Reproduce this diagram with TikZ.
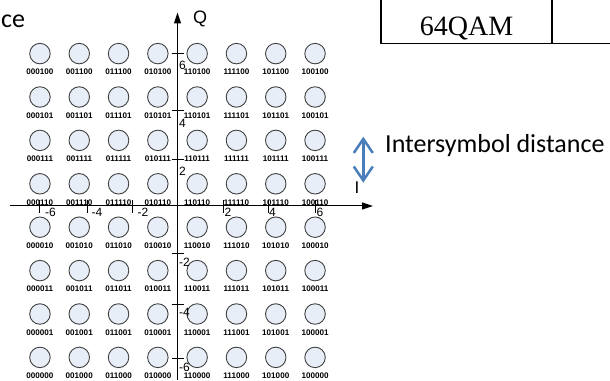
\documentclass[tikz,border=0pt]{standalone}
\usepackage{fontspec}
\setmainfont{Liberation Sans}
\newfontfamily\calibri{Carlito}
\newfontfamily\timesf{Liberation Serif}
\usetikzlibrary{arrows.meta}
\definecolor{symfill}{RGB}{232,238,247}
\definecolor{arrblue}{RGB}{74,126,187}
\tikzset{
  symbol/.style={circle, draw=black!75, fill=symfill, line width=0.9pt, minimum size=20.5pt, inner sep=0pt},
  bits/.style={font=\fontsize{8.1}{9}\selectfont\bfseries, inner sep=0pt},
  ticklab/.style={font=\fontsize{12}{14}\selectfont, inner sep=0pt, anchor=north west},
  axis/.style={line width=1pt, -{Triangle[length=11pt,width=7pt]}},
}
\begin{document}
\begin{tikzpicture}[x=1pt,y=1pt]
  \useasboundingbox (-177.5,-174) rectangle (432.5,206);
  % 坐标轴
  \coordinate (Ibeg) at (-167.5,0);
  \coordinate (Iend) at (195.5,0);
  \coordinate (Qbeg) at (0,-174);
  \coordinate (Qend) at (0,193.5);
  \draw[axis] (Ibeg) -- (Iend);
  \draw[axis] (Qbeg) -- (Qend);
  \node[font=\fontsize{18}{20}\selectfont] (qlab) at (22.5,187.5) {Q};
  \node[font=\fontsize{17}{20}\selectfont] (ilab) at (179.5,18) {I};
  % 星座点（比特标注）
  \foreach \c [count=\i from 0] in {000,001,011,010,110,111,101,100}
    \foreach \r [count=\j from 0] in {100,101,111,110,010,011,001,000} {
      \node[symbol] (s\i\j) at ({(\i-3.5)*39.3},{(3.5-\j)*43.4+0.5}) {};
      \node[bits] (b\i\j) at ([yshift=-18.5pt]s\i\j.center) {\c\r};
    }
  % I轴刻度
  \foreach \x/\t/\dx in {-138/-6/5.5, -90.5/-4/4.5, -45.5/-2/5.5, 45.5/2/1.5, 90.5/4/1, 138/6/1} {
    \draw[line width=0.8pt] (\x,6) -- (\x,-7);
    \node[ticklab] at (\x+\dx,-2) {\t};
  }
  % Q轴刻度
  \foreach \y/\t/\dy in {153/6/-8, 96/4/-9.5, 47/2/-7.7, -47/-2/-4.5, -98/-4/-4.5, -152/-6/-5} {
    \draw[line width=0.8pt] (-6,\y) -- (6,\y);
    \node[ticklab] at (1.5,\y+\dy) {\t};
  }
  % 表格一角
  \coordinate (t1) at (203.2,206);
  \coordinate (t2) at (203.2,162.5);
  \coordinate (t3) at (432.5,162.5);
  \coordinate (t4) at (374.2,206);
  \coordinate (t5) at (374.2,162.5);
  \draw[line width=1.7pt] (t1) -- (t2) -- (t3);
  \draw[line width=1.7pt] (t4) -- (t5);
  \node[font=\timesf\fontsize{28}{30}\selectfont, anchor=base, inner sep=0pt] (qam) at (289,170) {64QAM};
  % 符号间距
  \coordinate (dtop) at (185.8,69.3);
  \coordinate (dbot) at (185.8,23.3);
  \draw[arrblue, line width=2.5pt, {Straight Barb[length=14pt,width=19pt]}-{Straight Barb[length=14pt,width=19pt]}] (dtop) -- (dbot);
  \node[font=\calibri\fontsize{26}{30}\selectfont, anchor=base west, inner sep=0pt] (dist) at (207.5,53) {Intersymbol distance};
  \node[font=\calibri\fontsize{26}{30}\selectfont, anchor=base west, inner sep=0pt] (cut) at (-176.5,178) {ce};
\end{tikzpicture}
\end{document}
